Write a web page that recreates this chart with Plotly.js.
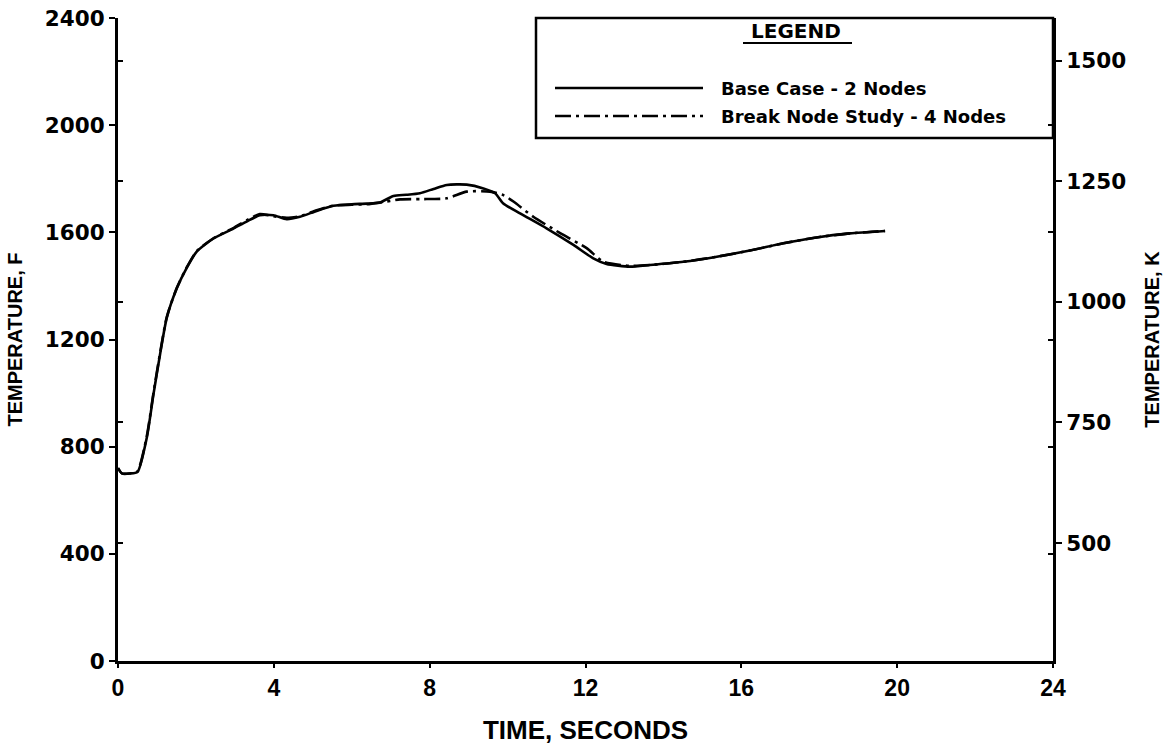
<!DOCTYPE html>
<html>
<head>
<meta charset="utf-8">
<script src="https://cdn.plot.ly/plotly-3.0.1.min.js"></script>
<style>
  html, body { margin: 0; padding: 0; background: #fff; }
  #chart { width: 1167px; height: 745px; }
</style>
</head>
<body>
<div id="chart"></div>
<script>
// ---- Data ----
const baseTime = [0, 0.1, 0.3, 0.5, 0.74, 0.91, 1.08, 1.25, 1.51, 1.76, 2.02, 2.45, 2.96, 3.3, 3.64, 3.99, 4.33, 4.67, 5.1, 5.53, 6.0, 6.38, 6.72, 7.07, 7.4, 7.75, 8.1, 8.44, 8.95, 9.38, 9.68, 9.89, 10.32, 11.0, 11.69, 12.2, 12.54, 13.14, 13.65, 14.51, 15.37, 16.22, 17.08, 17.93, 18.79, 19.69];
const baseTempF = [720, 700, 700, 705, 834, 995, 1145, 1280, 1391, 1466, 1528, 1577, 1614, 1640, 1664, 1664, 1649, 1658, 1680, 1699, 1705, 1707, 1711, 1736, 1740, 1746, 1762, 1777, 1778, 1764, 1746, 1708, 1671, 1615, 1553, 1503, 1482, 1472, 1478, 1490, 1509, 1532, 1559, 1581, 1596, 1605];

const breakTime = [0, 0.1, 0.3, 0.5, 0.74, 0.91, 1.08, 1.25, 1.51, 1.76, 2.02, 2.45, 2.96, 3.3, 3.64, 3.99, 4.33, 4.67, 5.1, 5.53, 6.0, 6.38, 6.72, 7.24, 7.8, 8.44, 8.95, 9.55, 9.89, 10.15, 10.66, 11.35, 12.03, 12.46, 13.14, 13.65, 14.51, 15.37, 16.22, 17.08, 17.93, 18.79, 19.69];
const breakTempF = [720, 700, 700, 708, 840, 1000, 1150, 1283, 1393, 1468, 1530, 1578, 1616, 1645, 1668, 1660, 1654, 1660, 1682, 1700, 1703, 1705, 1711, 1723, 1724, 1727, 1752, 1752, 1739, 1715, 1658, 1597, 1541, 1490, 1475, 1478, 1490, 1509, 1532, 1559, 1581, 1596, 1605];

const seriesNames = ["Base Case - 2 Nodes", "Break Node Study - 4 Nodes"];
const xTicks = [0, 4, 8, 12, 16, 20, 24];
const yTicksF = [0, 400, 800, 1200, 1600, 2000, 2400];
const yTicksK = [500, 750, 1000, 1250, 1500];
const xTitle = "TIME, SECONDS";
const yTitleF = "TEMPERATURE, F";
const yTitleK = "TEMPERATURE, K";
const legendTitle = "LEGEND";

// ---- Layout helpers ----
const W = 1167, H = 745;
const M = { l: 118, r: 114, t: 18, b: 84 };
const PW = W - M.l - M.r, PH = H - M.t - M.b;
const fToK = f => (f + 459.67) / 1.8;
const px = x => (x - M.l) / PW;          // pixel -> paper x
const py = y => (H - M.b - y) / PH;      // pixel -> paper y

const numFont = { family: "DejaVu Sans", size: 21.5, color: "#000", weight: "bold" };
const titleFont = { family: "Liberation Sans", size: 20, color: "#000", weight: "bold" };
const legFont = { family: "DejaVu Sans", size: 18, color: "#000", weight: "bold" };
const dashDot = "16px,5px,3px,5px";

const ghost = (yv, axis) => ({
  x: baseTime, y: yv, yaxis: axis, type: "scatter", mode: "lines",
  line: { width: 0, color: "rgba(0,0,0,0)" }, opacity: 0, hoverinfo: "skip", showlegend: false
});

const traces = [
  { x: breakTime, y: breakTempF, name: seriesNames[1], type: "scatter", mode: "lines",
    line: { color: "#000", width: 2.6, dash: dashDot, shape: "spline", smoothing: 0.6 }, showlegend: false },
  { x: baseTime, y: baseTempF, name: seriesNames[0], type: "scatter", mode: "lines",
    line: { color: "#000", width: 2.6, shape: "spline", smoothing: 0.6 }, showlegend: false },
  // invisible copies so the secondary (Kelvin) and minor-tick axes get drawn
  ghost(baseTempF.map(fToK), "y2"),
  ghost(baseTempF.map(fToK), "y3"),
  ghost(baseTempF, "y4")
];

const rangeF = [0, 2400];
const rangeK = [fToK(rangeF[0]), fToK(rangeF[1])];

const layout = {
  width: W, height: H,
  margin: M,
  paper_bgcolor: "#fff", plot_bgcolor: "#fff",
  showlegend: false,
  xaxis: {
    range: [0, 24], tickvals: xTicks, ticktext: xTicks.map(String),
    showgrid: false, zeroline: false, showline: true, linecolor: "#000", linewidth: 3,
    ticks: "outside", ticklen: 4, tickwidth: 2, tickcolor: "#000",
    tickfont: { family: "Liberation Sans", size: 23, color: "#000", weight: "bold" },
    title: { text: xTitle, standoff: 24,
             font: { family: "Liberation Sans", size: 26, color: "#000", weight: "bold" } }
  },
  yaxis: {
    range: rangeF, tickvals: yTicksF, ticktext: yTicksF.map(String),
    showgrid: false, zeroline: false, showline: true, linecolor: "#000", linewidth: 3,
    ticks: "outside", ticklen: 6, tickwidth: 2, tickcolor: "#000",
    tickfont: numFont,
    title: { text: yTitleF, standoff: 17, font: titleFont }
  },
  yaxis2: {
    overlaying: "y", side: "right", anchor: "x",
    range: rangeK, tickvals: yTicksK, ticktext: yTicksK.map(String),
    showgrid: false, zeroline: false, showline: true, linecolor: "#000", linewidth: 3,
    ticks: "outside", ticklen: 6, tickwidth: 2, tickcolor: "#000",
    tickfont: numFont,
    title: { text: yTitleK, standoff: 20, font: titleFont }
  },
  // inner minor ticks: K positions on left axis, F positions on right axis
  yaxis3: {
    overlaying: "y", side: "left", anchor: "x",
    range: rangeK, tickvals: yTicksK, showticklabels: false,
    showgrid: false, zeroline: false, showline: false,
    ticks: "inside", ticklen: 5, tickwidth: 2, tickcolor: "#000"
  },
  yaxis4: {
    overlaying: "y", side: "right", anchor: "x",
    range: rangeF, tickvals: yTicksF.slice(1, -1), showticklabels: false,
    showgrid: false, zeroline: false, showline: false,
    ticks: "inside", ticklen: 5, tickwidth: 2, tickcolor: "#000"
  },
  shapes: [
    // legend box
    { type: "rect", xref: "paper", yref: "paper", x0: px(536), x1: 1, y0: py(138), y1: 1,
      line: { color: "#000", width: 2.5 }, fillcolor: "rgba(255,255,255,0)", layer: "above" },
    // LEGEND underline
    { type: "line", xref: "paper", yref: "paper", x0: px(743), x1: px(852), y0: py(43), y1: py(43),
      line: { color: "#000", width: 2 } },
    // legend samples
    { type: "line", xref: "paper", yref: "paper", x0: px(555), x1: px(703), y0: py(88), y1: py(88),
      line: { color: "#000", width: 2.6 } },
    { type: "line", xref: "paper", yref: "paper", x0: px(555), x1: px(703), y0: py(116), y1: py(116),
      line: { color: "#000", width: 2.6, dash: dashDot } }
  ],
  annotations: [
    { text: legendTitle, xref: "paper", yref: "paper", x: px(796), y: py(31), xanchor: "center", yanchor: "middle",
      showarrow: false, font: { family: "DejaVu Sans", size: 20, color: "#000", weight: "bold" } },
    { text: seriesNames[0], xref: "paper", yref: "paper", x: px(719), y: py(89), xanchor: "left", yanchor: "middle",
      showarrow: false, font: legFont },
    { text: seriesNames[1], xref: "paper", yref: "paper", x: px(719), y: py(116), xanchor: "left", yanchor: "middle",
      showarrow: false, font: legFont }
  ]
};

Plotly.newPlot("chart", traces, layout, { displayModeBar: false, staticPlot: true });
</script>
</body>
</html>
